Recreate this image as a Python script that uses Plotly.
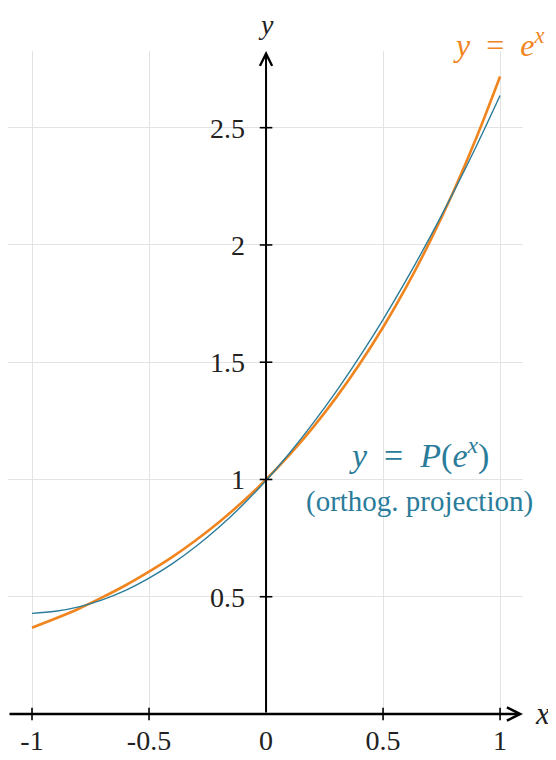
import plotly.graph_objects as go

# sample points
xs = [-1.0, -0.9, -0.8, -0.7, -0.6, -0.5, -0.4, -0.3, -0.2, -0.1, 0.0,
      0.1, 0.2, 0.3, 0.4, 0.5, 0.6, 0.7, 0.8, 0.9, 1.0]
exp_vals = [0.368, 0.407, 0.449, 0.497, 0.549, 0.607, 0.670, 0.741, 0.819, 0.905, 1.000,
            1.105, 1.221, 1.350, 1.492, 1.649, 1.822, 2.014, 2.226, 2.460, 2.718]
proj_vals = [0.429, 0.438, 0.457, 0.487, 0.527, 0.579, 0.641, 0.714, 0.797, 0.891, 0.996,
             1.112, 1.239, 1.376, 1.524, 1.682, 1.852, 2.032, 2.223, 2.424, 2.637]

x_ticks = [-1, -0.5, 0, 0.5, 1]
x_ticktext = ["-1", "-0.5", "0", "0.5", "1"]
y_ticks = [0.5, 1, 1.5, 2, 2.5]
y_ticktext = ["0.5", "1", "1.5", "2", "2.5"]

ORANGE = "#F0851F"
BLUE = "#2A7C9A"
SERIF = "Liberation Serif"
SP = "&nbsp;&nbsp;"

XR = [-1.1026, 1.098]
YR = [0, 2.827]

fig = go.Figure()

fig.add_trace(go.Scatter(x=xs, y=exp_vals, mode="lines", line=dict(color=ORANGE, width=2.6, shape="spline"),
                         hoverinfo="skip"))
fig.add_trace(go.Scatter(x=xs, y=proj_vals, mode="lines", line=dict(color=BLUE, width=1.4, shape="spline"),
                         hoverinfo="skip"))

# crossing tick marks on the axes
fig.add_trace(go.Scatter(x=[t for t in x_ticks if t != 0], y=[0] * 4, mode="markers", cliponaxis=False,
                         marker=dict(symbol="line-ns", size=9, line=dict(color="black", width=1.6)),
                         hoverinfo="skip"))
fig.add_trace(go.Scatter(x=[0] * len(y_ticks), y=y_ticks, mode="markers", cliponaxis=False,
                         marker=dict(symbol="line-ew", size=9, line=dict(color="black", width=1.6)),
                         hoverinfo="skip"))

# axis arrows
fig.add_annotation(x=XR[1], y=0, ax=XR[0], ay=0, axref="x", ayref="y", xref="x", yref="y",
                   text="", showarrow=True, arrowhead=5, arrowsize=1.0, arrowwidth=2.6, arrowcolor="black")
fig.add_annotation(x=0, y=YR[1], ax=0, ay=0, axref="x", ayref="y", xref="x", yref="y",
                   text="", showarrow=True, arrowhead=5, arrowsize=1.2, arrowwidth=2, arrowcolor="black")

fig.add_annotation(x=1.037, y=0.0015, xref="paper", yref="paper", xanchor="center", yanchor="middle",
                   text="<i>x</i>", showarrow=False, font=dict(family=SERIF, size=31, color="#222"))
fig.add_annotation(x=0.501, y=1.0405, xref="paper", yref="paper", xanchor="center", yanchor="middle",
                   text="<i>y</i>", showarrow=False, font=dict(family=SERIF, size=28, color="#222"))

fig.add_annotation(x=0.953, y=1.012, xref="paper", yref="paper", xanchor="center", yanchor="middle",
                   text="<i>y</i>" + SP + "=" + SP + "<i>e</i><sup><i>x</i></sup>",
                   showarrow=False, font=dict(family=SERIF, size=32, color=ORANGE))
fig.add_annotation(x=0.652, y=1.11, xref="x", yref="y", xanchor="center", yanchor="middle",
                   text="<i>y</i>" + SP + "=" + SP + "<i>P</i>(<i>e</i><sup><i>x</i></sup>)",
                   showarrow=False, font=dict(family=SERIF, size=34, color=BLUE))
fig.add_annotation(x=0.656, y=0.905, xref="x", yref="y", xanchor="center", yanchor="middle",
                   text="(orthog. projection)",
                   showarrow=False, font=dict(family=SERIF, size=29, color=BLUE))

fig.update_xaxes(range=XR, tickvals=x_ticks, ticktext=x_ticktext, showgrid=True, gridcolor="#e3e3e3",
                 gridwidth=1, zeroline=False, showline=False, ticks="", ticklabelstandoff=7,
                 automargin=False, tickfont=dict(family=SERIF, size=28, color="#222"))
fig.update_yaxes(range=YR, tickvals=y_ticks, ticktext=y_ticktext, showgrid=True, gridcolor="#e3e3e3",
                 gridwidth=1, zeroline=False, showline=False, ticks="", anchor="free",
                 position=(0 - XR[0]) / (XR[1] - XR[0]), ticklabelstandoff=21, automargin=False,
                 tickfont=dict(family=SERIF, size=28, color="#222"))

fig.update_layout(width=548, height=752, showlegend=False, plot_bgcolor="white", paper_bgcolor="white",
                  font=dict(family=SERIF), margin=dict(l=0, r=33, t=43, b=46))

fig.write_html("out.html")
